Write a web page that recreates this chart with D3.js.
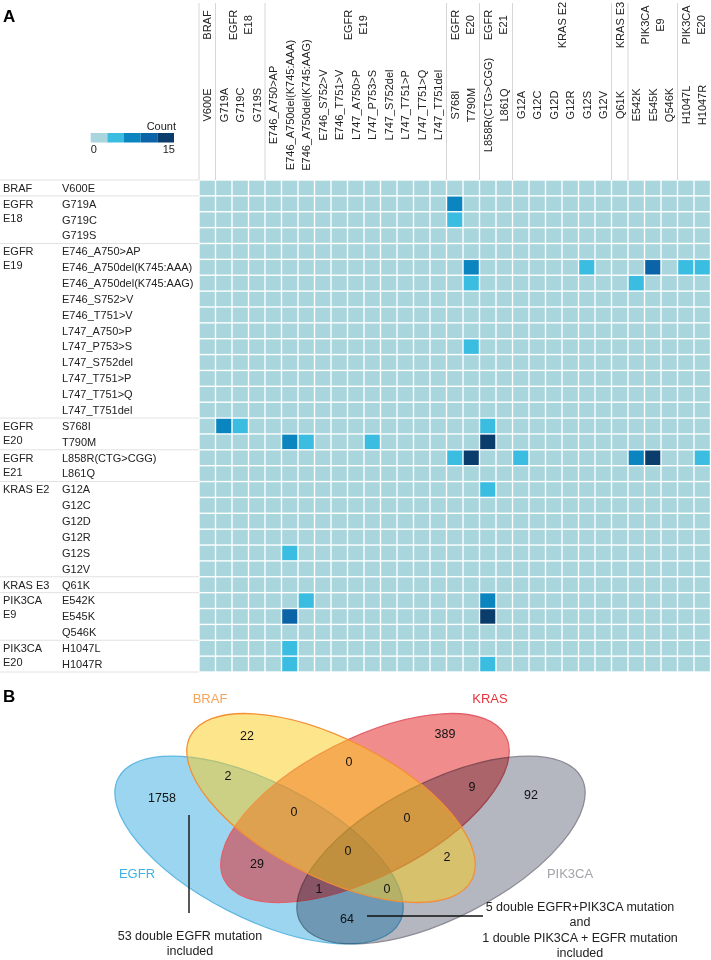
<!DOCTYPE html>
<html>
<head>
<meta charset="utf-8">
<script src="https://cdn.jsdelivr.net/npm/d3@7"></script>
<style>
  body { margin: 0; background: #fff; }
  svg { display: block; font-family: "Liberation Sans", Arial, Helvetica, sans-serif; }
</style>
</head>
<body>
<svg id="chart" width="711" height="960"></svg>
<script>
// ---- panel A : co-mutation heatmap ----
const groupLabels = [["BRAF"], ["EGFR", "E18"], ["EGFR", "E19"], ["EGFR", "E20"], ["EGFR", "E21"],
  ["KRAS E2"], ["KRAS E3"], ["PIK3CA", "E9"], ["PIK3CA", "E20"]];

const groupMutations = [
  ["V600E"],
  ["G719A", "G719C", "G719S"],
  ["E746_A750>AP", "E746_A750del(K745:AAA)", "E746_A750del(K745:AAG)", "E746_S752>V", "E746_T751>V",
   "L747_A750>P", "L747_P753>S", "L747_S752del", "L747_T751>P", "L747_T751>Q", "L747_T751del"],
  ["S768I", "T790M"],
  ["L858R(CTG>CGG)", "L861Q"],
  ["G12A", "G12C", "G12D", "G12R", "G12S", "G12V"],
  ["Q61K"],
  ["E542K", "E545K", "Q546K"],
  ["H1047L", "H1047R"]
];

// pairs of mutations found together, with their count (matrix is symmetric)
const coMutations = [
  ["G719A", "S768I", 7],
  ["G719C", "S768I", 4],
  ["E746_A750del(K745:AAA)", "T790M", 7],
  ["E746_A750del(K745:AAG)", "T790M", 4],
  ["L747_P753>S", "T790M", 4],
  ["E746_A750del(K745:AAA)", "G12S", 4],
  ["E746_A750del(K745:AAA)", "E545K", 10],
  ["E746_A750del(K745:AAA)", "H1047L", 4],
  ["E746_A750del(K745:AAA)", "H1047R", 4],
  ["E746_A750del(K745:AAG)", "E542K", 4],
  ["S768I", "L858R(CTG>CGG)", 4],
  ["T790M", "L858R(CTG>CGG)", 14],
  ["L858R(CTG>CGG)", "G12A", 4],
  ["L858R(CTG>CGG)", "E542K", 7],
  ["L858R(CTG>CGG)", "E545K", 14],
  ["L858R(CTG>CGG)", "H1047R", 4]
];

const countColors = ["#a9d5dc", "#3bbde2", "#0b85bf", "#0a64a7", "#0a3d6c"];
const countRange = [0, 15];
const legendTicks = [0, 15];

// ---- panel B : Venn diagram ----
const vennSets = ["EGFR", "KRAS", "PIK3CA", "BRAF"]; // drawing order
const vennRegions = [
  { sets: ["EGFR"], value: 1758 },
  { sets: ["BRAF"], value: 22 },
  { sets: ["KRAS"], value: 389 },
  { sets: ["PIK3CA"], value: 92 },
  { sets: ["EGFR", "BRAF"], value: 2 },
  { sets: ["BRAF", "KRAS"], value: 0 },
  { sets: ["KRAS", "PIK3CA"], value: 9 },
  { sets: ["EGFR", "KRAS"], value: 29 },
  { sets: ["EGFR", "PIK3CA"], value: 64 },
  { sets: ["BRAF", "PIK3CA"], value: 2 },
  { sets: ["EGFR", "BRAF", "KRAS"], value: 0 },
  { sets: ["BRAF", "KRAS", "PIK3CA"], value: 0 },
  { sets: ["EGFR", "BRAF", "KRAS", "PIK3CA"], value: 0 },
  { sets: ["EGFR", "KRAS", "PIK3CA"], value: 1 },
  { sets: ["EGFR", "BRAF", "PIK3CA"], value: 0 }
];
const noteLeft = ["53 double EGFR mutation", "included"];
const noteRight = ["5 double EGFR+PIK3CA mutation", "and", "1 double PIK3CA + EGFR mutation", "included"];

// layout
const FONT = 11;
const TEXT = "#222";
const vennShape = {
  EGFR:   { cx: 259, cy: 850, a: 158, b: 68, angle: 27,  fill: "#3aace2", blend: "normal",   stroke: "#5fb8e2", lx: 137, ly: 878, color: "#3bb3e6" },
  KRAS:   { cx: 365, cy: 808, a: 158, b: 69, angle: -27, fill: "#e4191b", blend: "normal",   stroke: "#e2606a", lx: 490, ly: 703, color: "#e8333d" },
  PIK3CA: { cx: 441, cy: 850, a: 158, b: 68, angle: -27, fill: "#6a6e82", blend: "multiply", stroke: "#8c8d96", lx: 570, ly: 878, color: "#a3a3aa" },
  BRAF:   { cx: 331, cy: 808, a: 158, b: 69, angle: 27,  fill: "#fbcb1a", blend: "normal",   stroke: "#f29035", lx: 210, ly: 703, color: "#f5a45c" }
};
// where each region's count is written (keyed by region, sets in drawing order)
const vennLabelAt = {
  "EGFR": [162, 798], "BRAF": [247, 736], "KRAS": [445, 734], "PIK3CA": [531, 795],
  "EGFR&BRAF": [228, 776], "KRAS&BRAF": [349, 762], "KRAS&PIK3CA": [472, 787],
  "EGFR&KRAS": [257, 864], "EGFR&PIK3CA": [347, 919], "PIK3CA&BRAF": [447, 857],
  "EGFR&KRAS&BRAF": [294, 812], "KRAS&PIK3CA&BRAF": [407, 818], "EGFR&KRAS&PIK3CA&BRAF": [348, 851],
  "EGFR&KRAS&PIK3CA": [319, 889], "EGFR&PIK3CA&BRAF": [387, 889]
};

const svg = d3.select("#chart");

const mutations = groupMutations.flat();
const groupStart = groupMutations.map(g => g[0]);

const x = d3.scaleBand().domain(mutations).range([199, 710.5]);
const y = d3.scaleBand().domain(mutations).range([180, 672]);
const color = d3.scaleQuantize().domain(countRange).range(countColors);

const countMap = new Map();
coMutations.forEach(([m1, m2, n]) => {
  countMap.set(m1 + "|" + m2, n);
  countMap.set(m2 + "|" + m1, n);
});

// panel letters
svg.append("text").attr("x", 3).attr("y", 22).attr("font-size", 17).attr("font-weight", "bold").text("A");
svg.append("text").attr("x", 3).attr("y", 702).attr("font-size", 17).attr("font-weight", "bold").text("B");

// header separators
svg.append("g").selectAll("line")
  .data(groupStart)
  .join("line")
  .attr("x1", d => x(d)).attr("x2", d => x(d))
  .attr("y1", 3).attr("y2", 180)
  .attr("stroke", "#d6d6d6").attr("stroke-width", 1);

// row group separators
svg.append("g").selectAll("line")
  .data(groupStart.map(d => y(d)).concat([y.range()[1]]))
  .join("line")
  .attr("x1", 0).attr("x2", 199)
  .attr("y1", d => d).attr("y2", d => d)
  .attr("stroke", "#e2e2e2").attr("stroke-width", 1);

// column group labels
const colGroups = svg.append("g");
groupLabels.forEach((lines, i) => {
  const muts = groupMutations[i];
  const cx = (x(muts[0]) + x(muts[muts.length - 1]) + x.bandwidth()) / 2;
  lines.forEach((ln, j) => {
    const off = (j - (lines.length - 1) / 2) * 15;
    colGroups.append("text")
      .attr("transform", `translate(${cx + off},25) rotate(-90)`)
      .attr("text-anchor", "middle").attr("dy", "0.35em")
      .attr("font-size", FONT).attr("fill", TEXT)
      .text(ln);
  });
});

// column labels
svg.append("g").selectAll("text")
  .data(mutations)
  .join("text")
  .attr("transform", d => `translate(${x(d) + x.bandwidth() / 2},105) rotate(-90)`)
  .attr("text-anchor", "middle").attr("dy", "0.35em")
  .attr("font-size", FONT).attr("fill", TEXT)
  .text(d => d);

// row group labels
const rowGroups = svg.append("g");
groupLabels.forEach((lines, i) => {
  const y0 = y(groupMutations[i][0]) + y.bandwidth() / 2;
  lines.forEach((ln, j) => {
    rowGroups.append("text")
      .attr("x", 3).attr("y", y0 + j * 14).attr("dy", "0.35em")
      .attr("font-size", FONT).attr("fill", TEXT)
      .text(ln);
  });
});

// row labels
svg.append("g").selectAll("text")
  .data(mutations)
  .join("text")
  .attr("x", 62).attr("y", d => y(d) + y.bandwidth() / 2).attr("dy", "0.35em")
  .attr("font-size", FONT).attr("fill", TEXT)
  .text(d => d);

// cells
const cells = [];
mutations.forEach(r => mutations.forEach(c => cells.push({ r, c, n: countMap.get(r + "|" + c) || 0 })));
const gap = 1.4;
svg.append("g").selectAll("rect")
  .data(cells)
  .join("rect")
  .attr("x", d => x(d.c) + gap / 2)
  .attr("y", d => y(d.r) + gap / 2)
  .attr("width", x.bandwidth() - gap)
  .attr("height", y.bandwidth() - gap)
  .attr("fill", d => color(d.n));

// legend
const lx = d3.scaleLinear().domain(countRange).range([90.7, 174]);
const legend = svg.append("g");
legend.selectAll("rect")
  .data(countColors)
  .join("rect")
  .attr("x", d => lx(color.invertExtent(d)[0]))
  .attr("width", d => lx(color.invertExtent(d)[1]) - lx(color.invertExtent(d)[0]))
  .attr("y", 133).attr("height", 9.5)
  .attr("fill", d => d);
legend.append("text").attr("x", 176).attr("y", 130).attr("text-anchor", "end")
  .attr("font-size", FONT).attr("fill", TEXT).text("Count");
legend.selectAll(".tick")
  .data(legendTicks)
  .join("text")
  .attr("class", "tick")
  .attr("x", d => lx(d) + (d === countRange[0] ? 0 : 1))
  .attr("y", 153)
  .attr("text-anchor", d => d === countRange[0] ? "start" : "end")
  .attr("font-size", FONT).attr("fill", TEXT)
  .text(d => d);

// ---- Venn ----
const ellipses = vennSets.map(s => Object.assign({ set: s }, vennShape[s]));

svg.append("g").selectAll("ellipse")
  .data(ellipses)
  .join("ellipse")
  .attr("transform", d => `translate(${d.cx},${d.cy}) rotate(${d.angle})`)
  .attr("rx", d => d.a).attr("ry", d => d.b)
  .attr("fill", d => d.fill).attr("fill-opacity", 0.5)
  .style("mix-blend-mode", d => d.blend)
  .attr("stroke", d => d.stroke).attr("stroke-width", 1.3);

svg.append("g").selectAll("text")
  .data(ellipses)
  .join("text")
  .attr("x", d => d.lx).attr("y", d => d.ly)
  .attr("text-anchor", "middle")
  .attr("font-size", 13).attr("fill", d => d.color)
  .text(d => d.set);

const regionKey = sets => vennSets.filter(s => sets.includes(s)).join("&");

svg.append("g").selectAll("text")
  .data(vennRegions)
  .join("text")
  .attr("x", d => vennLabelAt[regionKey(d.sets)][0])
  .attr("y", d => vennLabelAt[regionKey(d.sets)][1])
  .attr("text-anchor", "middle").attr("dy", "0.35em")
  .attr("font-size", 12.5).attr("fill", "#111")
  .text(d => d.value);

// annotations
const notes = svg.append("g").attr("font-size", 12.5).attr("fill", TEXT).attr("text-anchor", "middle");
notes.append("line").attr("x1", 189).attr("x2", 189).attr("y1", 815).attr("y2", 913)
  .attr("stroke", "#111").attr("stroke-width", 1.4);
notes.selectAll(".nl").data(noteLeft).join("text").attr("class", "nl")
  .attr("x", 190).attr("y", (d, i) => 940 + i * 15).text(d => d);
notes.append("line").attr("x1", 367).attr("x2", 483).attr("y1", 916).attr("y2", 916)
  .attr("stroke", "#111").attr("stroke-width", 1.4);
notes.selectAll(".nr").data(noteRight).join("text").attr("class", "nr")
  .attr("x", 580).attr("y", (d, i) => 911 + i * 15.3).text(d => d);
</script>
</body>
</html>
